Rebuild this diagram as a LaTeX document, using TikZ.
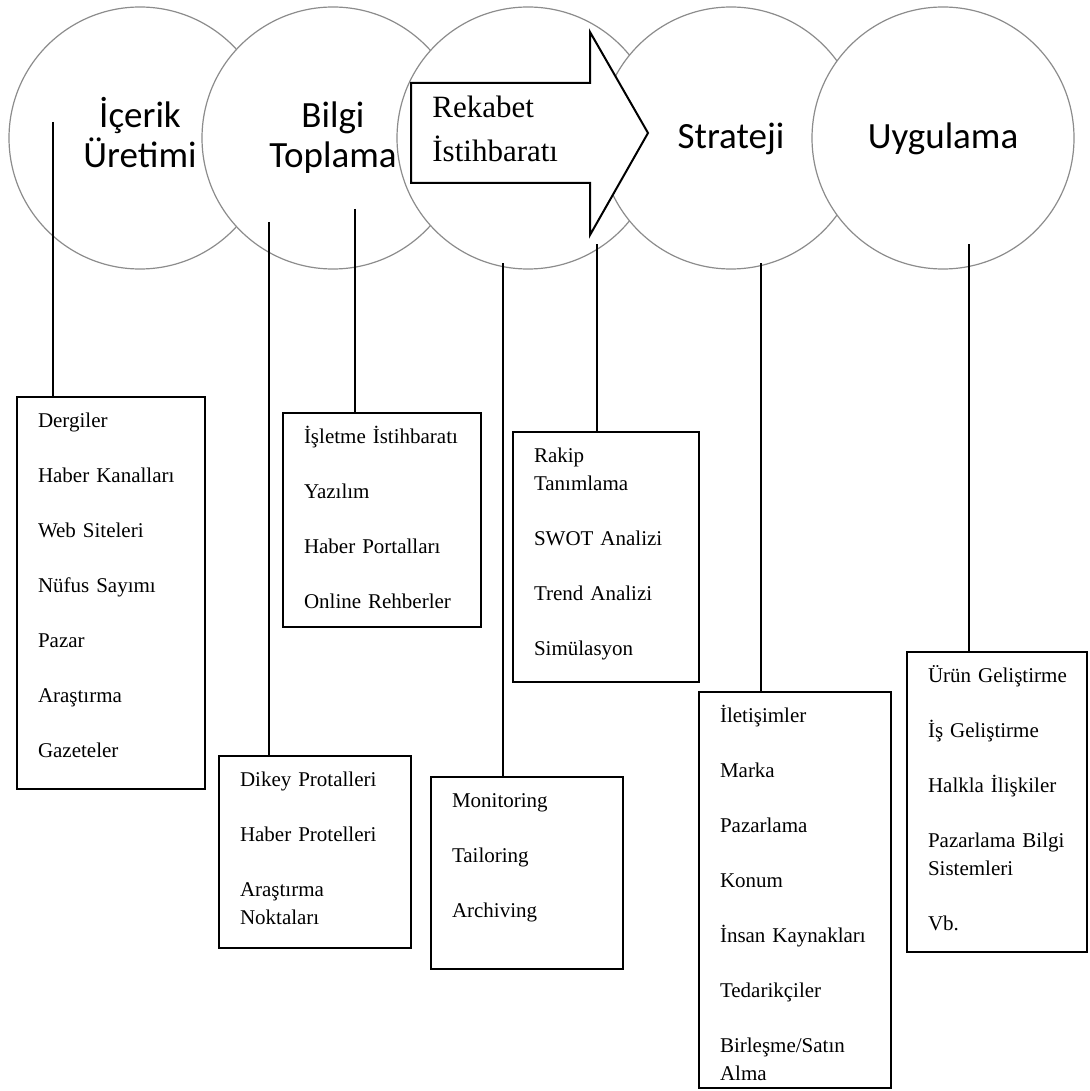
\documentclass[tikz,border=0pt]{standalone}
\usepackage{fontspec}
\setmainfont{Liberation Serif}
\newfontfamily\stagefont{Carlito}
\usetikzlibrary{positioning}
\tikzstyle{stage}=[draw=black!45, line width=.6pt, circle, fill=white,
  minimum size=131pt, inner sep=0pt, text width=110pt, align=center,
  font=\stagefont\fontsize{18.5}{20}\selectfont, text height=14pt]
\tikzstyle{list}=[draw, line width=1pt, anchor=north west, outer sep=0pt,
  inner xsep=10.5pt, inner ysep=0pt, align=left,
  font=\fontsize{10.5}{14}\selectfont, text height=15pt]
\tikzstyle{link}=[line width=1pt]

\begin{document}
\begin{tikzpicture}[x=0.5pt, y=-0.5pt, on grid]
  \useasboundingbox (0,0) rectangle (1089,1091);

  \node[stage, text depth=24pt]                      (c1) at (140,138) {İçerik\\Üretimi};
  \node[stage, text depth=24pt, right=96.5pt of c1]  (c2) {Bilgi\\Toplama};
  \node[stage, text depth=24pt, right=97.5pt of c2]  (c3) {};
  \node[stage, text depth=3pt, right=101.5pt of c3]  (c4) {Strateji};
  \node[stage, text depth=3pt, right=106pt of c4]    (c5) {Uygulama};

  \draw[line width=1pt, fill=white] (411,83) -- (590,83) -- (590,32) --
  (648,133) -- (590,235) -- (590,183) -- (411,183) -- cycle;
  \node[anchor=base west, inner sep=0pt, text width=80pt, align=left,
    font=\fontsize{15.5}{22}\selectfont] (rek) at (432,118) {Rekabet\\İstihbaratı};

  \node[list, text width=73pt, text depth=181pt] (l1) at (17,397)
  {Dergiler\\[13.5pt]Haber~Kanalları\\[13.5pt]Web~Siteleri\\[13.5pt]Nüfus~Sayımı\\[13.5pt]Pazar\\[13.5pt]Araştırma\\[13.5pt]Gazeteler};
  \node[list, text width=78pt, text depth=92pt] (l2) at (283,413)
  {İşletme~İstihbaratı\\[13.5pt]Yazılım\\[13.5pt]Haber~Portalları\\[13.5pt]Online~Rehberler};
  \node[list, text width=75pt, text depth=81pt] (l3) at (219,756)
  {Dikey~Protalleri\\[13.5pt]Haber~Protelleri\\[13.5pt]Araştırma\\Noktaları};
  \node[list, text width=72pt, text depth=110pt] (l4) at (513,432)
  {Rakip\\Tanımlama\\[13.5pt]SWOT~Analizi\\[13.5pt]Trend~Analizi\\[13.5pt]Simülasyon};
  \node[list, text width=75pt, text depth=81pt] (l5) at (431,777)
  {Monitoring\\[13.5pt]Tailoring\\[13.5pt]Archiving};
  \node[list, text width=75pt, text depth=183pt] (l6) at (699,692)
  {İletişimler\\[13.5pt]Marka\\[13.5pt]Pazarlama\\[13.5pt]Konum\\[13.5pt]İnsan~Kaynakları\\[13.5pt]Tedarikçiler\\[13.5pt]Birleşme/Satın\\Alma};
  \node[list, text width=69pt, text depth=135pt] (l7) at (907,652)
  {Ürün~Geliştirme\\[13.5pt]İş~Geliştirme\\[13.5pt]Halkla~İlişkiler\\[13.5pt]Pazarlama~Bilgi\\Sistemleri\\[13.5pt]Vb.};

  \coordinate (t1) at (53,122);
  \coordinate (t2) at (269,222);
  \coordinate (t3) at (355,209);
  \coordinate (t4) at (503,263);
  \coordinate (t5) at (597,244);
  \coordinate (t6) at (761,263);
  \coordinate (t7) at (969,244);

  \draw[link] (t1) -- (t1 |- l1.north);
  \draw[link] (t2) -- (t2 |- l3.north);
  \draw[link] (t3) -- (t3 |- l2.north);
  \draw[link] (t4) -- (t4 |- l5.north);
  \draw[link] (t5) -- (t5 |- l4.north);
  \draw[link] (t6) -- (t6 |- l6.north);
  \draw[link] (t7) -- (t7 |- l7.north);
\end{tikzpicture}
\end{document}
